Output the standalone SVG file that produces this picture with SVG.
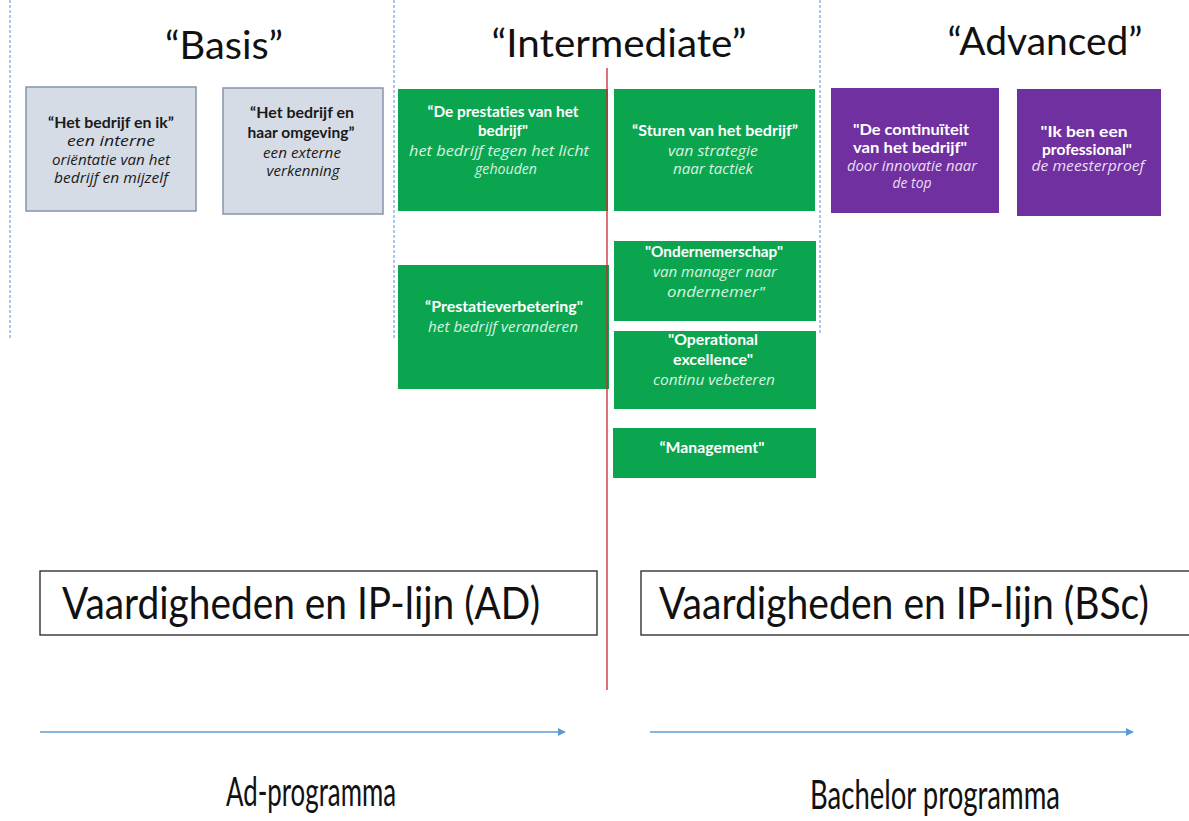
<svg xmlns="http://www.w3.org/2000/svg" width="1189" height="821" viewBox="0 0 1189 821">
<style>
.title{font-family:Lato,"Liberation Sans",sans-serif;font-size:39px;fill:#111;text-anchor:middle}
.big{font-family:Lato,"Liberation Sans",sans-serif;font-size:44px;fill:#111}
.bot{font-family:Lato,"Liberation Sans",sans-serif;font-size:41px;fill:#111;text-anchor:middle}
.gray{fill:#D6DCE5;stroke:#8495AD;stroke-width:1.5}
.green{fill:#0BA54F}
.purple{fill:#7030A0}
.b{font-family:Lato,"Liberation Sans",sans-serif;font-size:16px;font-weight:bold;text-anchor:middle}
.i{font-family:"Open Sans","Liberation Sans",sans-serif;font-size:14.5px;font-style:italic;text-anchor:middle}
.dk{fill:#1a1a1a}
.wh{fill:#ffffff}
.lg{fill:#D8F3E2}
.lp{fill:#EADDF5}
.dash{stroke:#5B8FC9;stroke-width:1;stroke-dasharray:3,2;fill:none}
.frame{fill:#fff;stroke:#222;stroke-width:1.3}
.arr{stroke:#5B9BD5;stroke-width:1.6;fill:none}
</style>
<defs>
<marker id="ah" viewBox="0 0 10 10" refX="9" refY="5" markerWidth="5" markerHeight="5" orient="auto" markerUnits="strokeWidth">
<path d="M0,0 L10,5 L0,10 z" fill="#5B9BD5"/>
</marker>
</defs>
<rect width="1189" height="821" fill="#fff"/>
<g id="guides">
<line class="dash" x1="10" y1="0" x2="10" y2="340"/>
<line class="dash" x1="394" y1="0" x2="394" y2="340"/>
<line class="dash" x1="820" y1="0" x2="820" y2="333"/>
</g>
<g id="titles">
<text class="title" x="224" y="59" textLength="118" lengthAdjust="spacingAndGlyphs">“Basis”</text>
<text class="title" x="619" y="57" textLength="255" lengthAdjust="spacingAndGlyphs">“Intermediate”</text>
<text class="title" x="1045" y="55" textLength="195" lengthAdjust="spacingAndGlyphs">“Advanced”</text>
</g>
<g id="node-bedrijf-ik">
<rect class="gray" x="26" y="87" width="170" height="124"/>
<text class="b dk" x="111" y="128" textLength="126" lengthAdjust="spacingAndGlyphs">“Het bedrijf en ik”</text>
<text class="i dk" x="111" y="146" textLength="88" lengthAdjust="spacingAndGlyphs">een interne</text>
<text class="i dk" x="111" y="165" textLength="118" lengthAdjust="spacingAndGlyphs">oriëntatie van het</text>
<text class="i dk" x="111" y="183" textLength="114" lengthAdjust="spacingAndGlyphs">bedrijf en mijzelf</text>
</g>
<g id="node-omgeving">
<rect class="gray" x="223" y="88" width="160" height="126"/>
<text class="b dk" x="302" y="118" textLength="104" lengthAdjust="spacingAndGlyphs">“Het bedrijf en</text>
<text class="b dk" x="301" y="138" textLength="107" lengthAdjust="spacingAndGlyphs">haar omgeving”</text>
<text class="i dk" x="302" y="158" textLength="78" lengthAdjust="spacingAndGlyphs">een externe</text>
<text class="i dk" x="303" y="176" textLength="73" lengthAdjust="spacingAndGlyphs">verkenning</text>
</g>
<g id="node-prestaties">
<rect class="green" x="398" y="89" width="210" height="122"/>
<text class="b wh" x="503" y="117" textLength="151" lengthAdjust="spacingAndGlyphs">“De prestaties van het</text>
<text class="b wh" x="503" y="136" textLength="50" lengthAdjust="spacingAndGlyphs">bedrijf"</text>
<text class="i lg" x="499" y="156" textLength="180" lengthAdjust="spacingAndGlyphs">het bedrijf tegen het licht</text>
<text class="i lg" x="506" y="174" textLength="62" lengthAdjust="spacingAndGlyphs">gehouden</text>
</g>
<g id="node-sturen">
<rect class="green" x="614" y="89" width="201" height="122"/>
<text class="b wh" x="715" y="136" textLength="166" lengthAdjust="spacingAndGlyphs">“Sturen van het bedrijf”</text>
<text class="i lg" x="713" y="156" textLength="90" lengthAdjust="spacingAndGlyphs">van strategie</text>
<text class="i lg" x="713" y="174" textLength="80" lengthAdjust="spacingAndGlyphs">naar tactiek</text>
</g>
<g id="node-continuiteit">
<rect class="purple" x="831" y="88" width="168" height="125"/>
<text class="b wh" x="911" y="135" textLength="116" lengthAdjust="spacingAndGlyphs">"De continuïteit</text>
<text class="b wh" x="910" y="153" textLength="114" lengthAdjust="spacingAndGlyphs">van het bedrijf"</text>
<text class="i lp" x="912" y="171" textLength="130" lengthAdjust="spacingAndGlyphs">door innovatie naar</text>
<text class="i lp" x="912" y="188" textLength="39" lengthAdjust="spacingAndGlyphs">de top</text>
</g>
<g id="node-professional">
<rect class="purple" x="1017" y="89" width="144" height="127"/>
<text class="b wh" x="1084" y="137" textLength="87" lengthAdjust="spacingAndGlyphs">"Ik ben een</text>
<text class="b wh" x="1087" y="155" textLength="90" lengthAdjust="spacingAndGlyphs">professional"</text>
<text class="i lp" x="1088" y="171" textLength="113" lengthAdjust="spacingAndGlyphs">de meesterproef</text>
</g>
<g id="node-prestatieverbetering">
<rect class="green" x="398" y="265" width="211" height="124"/>
<text class="b wh" x="504" y="312" textLength="158" lengthAdjust="spacingAndGlyphs">“Prestatieverbetering"</text>
<text class="i lg" x="503" y="332" textLength="150" lengthAdjust="spacingAndGlyphs">het bedrijf veranderen</text>
</g>
<g id="node-ondernemerschap">
<rect class="green" x="614" y="241" width="202" height="80"/>
<text class="b wh" x="714" y="257" textLength="138" lengthAdjust="spacingAndGlyphs">"Ondernemerschap"</text>
<text class="i lg" x="715" y="277" textLength="124" lengthAdjust="spacingAndGlyphs">van manager naar</text>
<text class="i lg" x="716" y="297" textLength="98" lengthAdjust="spacingAndGlyphs">ondernemer"</text>
</g>
<g id="node-operational">
<rect class="green" x="614" y="331" width="202" height="78"/>
<text class="b wh" x="713" y="345" textLength="90" lengthAdjust="spacingAndGlyphs">"Operational</text>
<text class="b wh" x="713" y="365" textLength="80" lengthAdjust="spacingAndGlyphs">excellence"</text>
<text class="i lg" x="714" y="385" textLength="122" lengthAdjust="spacingAndGlyphs">continu vebeteren</text>
</g>
<g id="node-management">
<rect class="green" x="613" y="428" width="203" height="50"/>
<text class="b wh" x="712" y="453" textLength="105" lengthAdjust="spacingAndGlyphs">“Management"</text>
</g>
<g id="node-vaardigheden-ad">
<rect class="frame" x="40" y="571" width="557" height="64"/>
<text class="big" x="62" y="619" textLength="478" lengthAdjust="spacingAndGlyphs">Vaardigheden en IP-lijn (AD)</text>
</g>
<g id="node-vaardigheden-bsc">
<rect class="frame" x="641" y="571" width="560" height="64"/>
<text class="big" x="659" y="619" textLength="490" lengthAdjust="spacingAndGlyphs">Vaardigheden en IP-lijn (BSc)</text>
</g>
<g id="connectors">
<line x1="607" y1="68" x2="607" y2="690" stroke="#C8282E" stroke-width="1.3"/>
<line class="arr" x1="40" y1="732" x2="565" y2="732" marker-end="url(#ah)"/>
<line class="arr" x1="650" y1="732" x2="1133" y2="732" marker-end="url(#ah)"/>
</g>
<g id="labels">
<text class="bot" x="311" y="806" textLength="170" lengthAdjust="spacingAndGlyphs">Ad-programma</text>
<text class="bot" x="935" y="809" textLength="250" lengthAdjust="spacingAndGlyphs">Bachelor programma</text>
</g>
</svg>
